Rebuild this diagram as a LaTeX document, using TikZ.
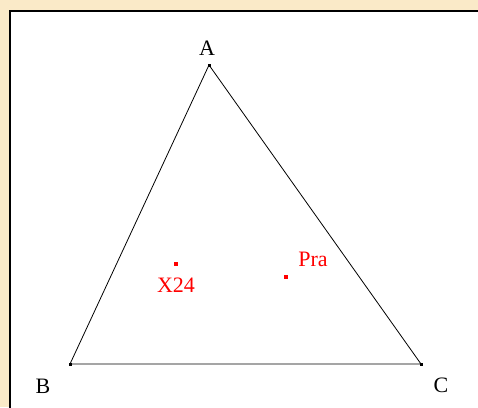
\documentclass[tikz,border=0pt]{standalone}
\usepackage{fontspec}
\setmainfont{Liberation Serif}
\usepackage{xcolor}
\usetikzlibrary{positioning}

\definecolor{paper}{RGB}{250,234,200}

\begin{document}
\begin{tikzpicture}[
	x=1pt, y=-1pt,
	vertex/.style={rectangle, fill=black, inner sep=0pt, minimum size=3pt},
	center/.style={rectangle, fill=red, inner sep=0pt, minimum size=3.2pt},
	vlabel/.style={anchor=base, font=\fontsize{22}{26}\selectfont},
	clabel/.style={anchor=base, text=red, font=\fontsize{22}{26}\selectfont}
	]
	
	% Frame
	\useasboundingbox[fill=paper] (0,0) rectangle (478,407);
	\fill[white] (10,11) rectangle (478,407);
	\draw[line width=2.6pt] (10,430) -- (10,11) -- (500,11);
	
	% Vertices
	\node[vertex] (A) at (209,65) {};
	\node[vertex] (B) at (70,364) {};
	\node[vertex] (C) at (421,364) {};
	
	\node[vlabel] (lA) at (207,55) {A};
	\node[vlabel] (lB) at (43,393) {B};
	\node[vlabel] (lC) at (441,392) {C};
	
	% Triangle
	\draw[line width=0.8pt] (A.center) -- (B.center) -- (C.center) -- cycle;
	
	% Centers
	\node[center] (X) at (176,264) {};
	\node[center] (P) at (286,277) {};
	
	\node[clabel] (lX) at (176,292) {X24};
	\node[clabel] (lP) at (313,266) {Pra};
	
\end{tikzpicture}
\end{document}
